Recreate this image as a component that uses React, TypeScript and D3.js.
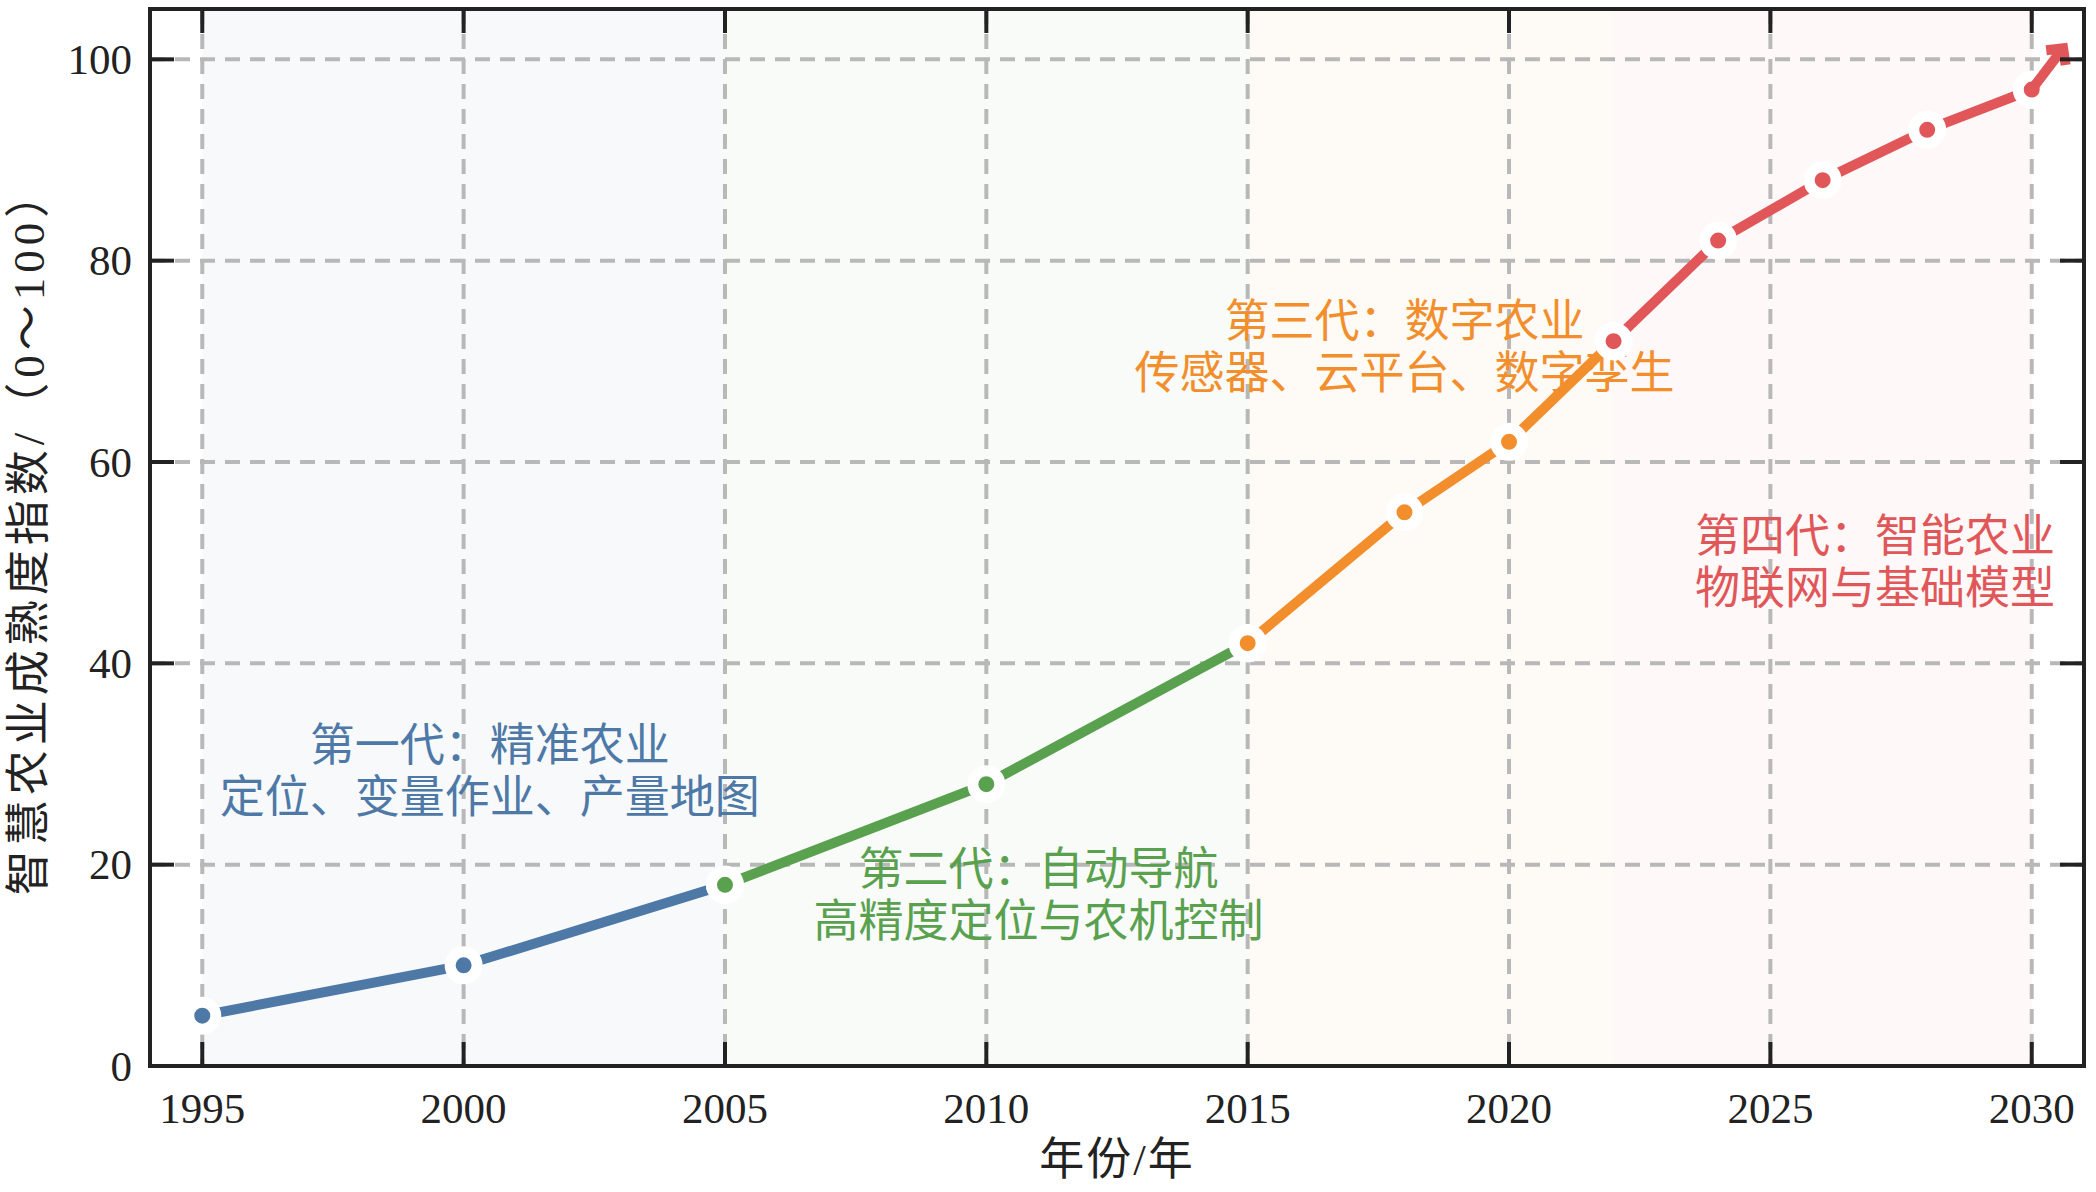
import React from 'react';
import * as d3 from 'd3';

// ---- data ----
const years = [1995, 2000, 2005, 2010, 2015, 2018, 2020, 2022, 2024, 2026, 2028, 2030];
const maturity = [5, 10, 18, 28, 42, 55, 62, 72, 82, 88, 93, 97];
const eraStart = [1995, 2005, 2015, 2022];
const eraEnd = [2005, 2015, 2022, 2030];
const eraColors = ['#4e79a7', '#59a14f', '#f28e2b', '#e15759'];
const eraTitles = ['第一代：精准农业', '第二代：自动导航', '第三代：数字农业', '第四代：智能农业'];
const eraSubtitles = ['定位、变量作业、产量地图', '高精度定位与农机控制', '传感器、云平台、数字孪生', '物联网与基础模型'];
const labelYears = [2000.5, 2011, 2018, 2027];
const labelValues = [29.2, 16.9, 71.3, 50];
const xTicks = [1995, 2000, 2005, 2010, 2015, 2020, 2025, 2030];
const yTicks = [0, 20, 40, 60, 80, 100];
const arrowYear = 2030.6;
const arrowValue = 101.1;
const xLabel = '年份/年';
const yLabel = '智慧农业成熟度指数/（0～100）';

const W = 2096;
const H = 1192;
const M = { left: 150, right: 2084, top: 9, bottom: 1066 };
const FONT = "'Liberation Serif', 'Times New Roman', 'Noto Sans CJK SC', serif";
const CJK = "'Liberation Serif', 'Noto Sans CJK SC', serif";

export default function App() {
  const x = d3.scaleLinear().domain([1994, 2031]).range([M.left, M.right]);
  const y = d3.scaleLinear().domain([0, 105]).range([M.bottom, M.top]);
  const pts = years.map((yr, i) => ({ yr, v: maturity[i] }));
  const line = d3
    .line<{ yr: number; v: number }>()
    .x((d) => x(d.yr))
    .y((d) => y(d.v));

  const segs = eraStart.map((s, i) => pts.filter((p) => p.yr >= s && p.yr <= eraEnd[i]));

  const last = pts[pts.length - 1];
  const x0 = x(last.yr), y0 = y(last.v);
  const tx = x(arrowYear), ty = y(arrowValue);
  const ang = Math.atan2(y0 - ty, x0 - tx);
  const armLen = 17;
  const arm1 = [tx + armLen * Math.cos(ang + 0.8), ty + armLen * Math.sin(ang + 0.8)];
  const arm2 = [tx + armLen * Math.cos(ang - 0.8), ty + armLen * Math.sin(ang - 0.8)];

  const tickLen = 24;
  const axisColor = '#222';

  return (
    <svg width={W} height={H} style={{ position: 'absolute', left: 0, top: 0, background: '#fff' }}>
      <defs>
        <clipPath id="plotClip">
          <rect x={M.left} y={M.top} width={M.right - M.left} height={M.bottom - M.top} />
        </clipPath>
      </defs>
      <rect x={0} y={0} width={W} height={H} fill="#fff" />
      {/* era bands */}
      {eraStart.map((s, i) => (
        <rect
          key={'band' + i}
          x={x(s)}
          y={M.top}
          width={x(eraEnd[i]) - x(s)}
          height={M.bottom - M.top}
          fill={eraColors[i]}
          fillOpacity={0.045}
        />
      ))}
      {/* grid */}
      {xTicks.map((t) => (
        <line key={'gx' + t} x1={x(t)} x2={x(t)} y1={M.top} y2={M.bottom}
          stroke="#b8b8b8" strokeWidth={4} strokeDasharray="15,10" />
      ))}
      {yTicks.filter((t) => t > 0).map((t) => (
        <line key={'gy' + t} x1={M.left} x2={M.right} y1={y(t)} y2={y(t)}
          stroke="#b8b8b8" strokeWidth={4} strokeDasharray="15,10" />
      ))}
      {/* annotations */}
      {eraTitles.map((t, i) => {
        const cx = x(labelYears[i]);
        const cy = y(labelValues[i]);
        return (
          <text key={'lab' + i} x={cx} textAnchor="middle" fill={eraColors[i]}
            fontFamily={CJK} fontSize={45} dominantBaseline="central">
            <tspan x={cx} y={cy - 26}>{t}</tspan>
            <tspan x={cx} y={cy + 26}>{eraSubtitles[i]}</tspan>
          </text>
        );
      })}
      {/* series */}
      <g clipPath="url(#plotClip)">
        {segs.map((seg, i) => (
          <g key={'seg' + i}>
            <path d={line(seg) || ''} fill="none" stroke={eraColors[i]} strokeWidth={10}
              strokeLinecap="butt" strokeLinejoin="round" />
            {seg.map((p) => (
              <circle key={'m' + p.yr} cx={x(p.yr)} cy={y(p.v)} r={13.5}
                fill={eraColors[i]} stroke="#fff" strokeWidth={11} />
            ))}
          </g>
        ))}
        <path
          d={`M${x0},${y0}L${tx},${ty}M${arm1[0]},${arm1[1]}L${tx},${ty}L${arm2[0]},${arm2[1]}`}
          fill="none" stroke={eraColors[3]} strokeWidth={10} strokeLinejoin="miter" strokeLinecap="butt"
        />
      </g>
      {/* ticks (inward, all four sides) */}
      {xTicks.map((t) => (
        <g key={'tx' + t} stroke={axisColor} strokeWidth={4}>
          <line x1={x(t)} x2={x(t)} y1={M.bottom} y2={M.bottom - tickLen} />
          <line x1={x(t)} x2={x(t)} y1={M.top} y2={M.top + tickLen} />
        </g>
      ))}
      {yTicks.map((t) => (
        <g key={'ty' + t} stroke={axisColor} strokeWidth={4}>
          <line x1={M.left} x2={M.left + tickLen} y1={y(t)} y2={y(t)} />
          <line x1={M.right} x2={M.right - tickLen} y1={y(t)} y2={y(t)} />
        </g>
      ))}
      {/* frame */}
      <rect x={M.left} y={M.top} width={M.right - M.left} height={M.bottom - M.top}
        fill="none" stroke={axisColor} strokeWidth={4} />
      {/* tick labels */}
      {xTicks.map((t) => (
        <text key={'xl' + t} x={x(t)} y={M.bottom + 57} textAnchor="middle"
          fontFamily={FONT} fontSize={43} fill="#222">{t}</text>
      ))}
      {yTicks.map((t) => (
        <text key={'yl' + t} x={M.left - 18} y={y(t)} textAnchor="end" dominantBaseline="central"
          fontFamily={FONT} fontSize={43} fill="#222">{t}</text>
      ))}
      {/* axis labels */}
      <text x={(M.left + M.right) / 2} y={1160} textAnchor="middle" dominantBaseline="central"
        fontFamily={CJK} fontSize={45} fill="#222" letterSpacing={2}>{xLabel}</text>
      <text transform={`translate(29,${(M.top + M.bottom) / 2 - 6}) rotate(-90)`} textAnchor="middle"
        dominantBaseline="central" fontFamily={CJK} fontSize={45} fill="#222" letterSpacing={5}>{yLabel}</text>
    </svg>
  );
}
